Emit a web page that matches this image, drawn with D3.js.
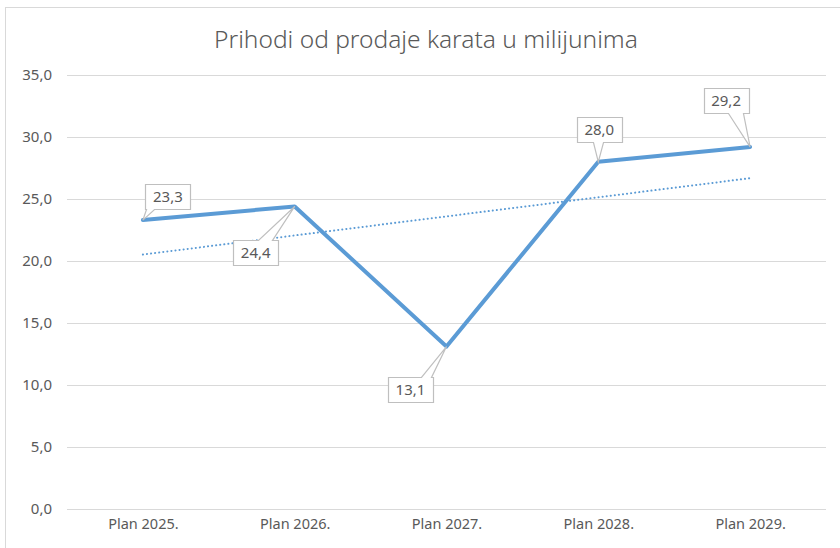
<!DOCTYPE html>
<html>
<head>
<meta charset="utf-8">
<script src="https://cdn.jsdelivr.net/npm/d3@7"></script>
<style>
  body { margin: 0; background: #fff; }
  text { font-family: "Noto Sans", "Open Sans", sans-serif; fill: #595959; }
</style>
</head>
<body>
<svg id="chart" width="840" height="548"></svg>
<script>
const categories = ['Plan 2025.', 'Plan 2026.', 'Plan 2027.', 'Plan 2028.', 'Plan 2029.'];
const revenue = [23.3, 24.4, 13.1, 28.0, 29.2];
const yTicks = [0, 5, 10, 15, 20, 25, 30, 35];
const title = 'Prihodi od prodaje karata u milijunima';

// callout placement per point: box centre offset, side the pointer leaves from, pointer base (from box left)
const callouts = [
  {dx: 25, dy: -24, side: 'bottom', b0: 1, b1: 9},
  {dx: -39, dy: 46, side: 'top', b0: 25, b1: 39},
  {dx: -36, dy: 43, side: 'top', b0: 33, b1: 43},
  {dx: 1, dy: -32, side: 'bottom', b0: 16, b1: 26},
  {dx: -24, dy: -46, side: 'bottom', b0: 24, b1: 39}
];

const width = 840;
const height = 548;
const plotLeft = 67, plotRight = 826, plotTop = 75, plotBottom = 509;

const fmt = (v) => d3.format('.1f')(v).replace('.', ',');

const svg = d3.select('#chart');

// outer chart border
svg.append('rect')
  .attr('x', 5.5).attr('y', 7.5)
  .attr('width', width).attr('height', height)
  .attr('fill', 'none')
  .attr('stroke', '#d9d9d9')

svg.append('text')
  .attr('x', 426).attr('y', 48)
  .attr('text-anchor', 'middle')
  .style('font-size', '24.5px')
  .style('font-weight', 300)
  .text(title)

const xscale = d3.scalePoint()
  .domain(categories)
  .range([plotLeft, plotRight])
  .padding(0.5)

const yscale = d3.scaleLinear()
  .domain([0, 35])
  .range([plotBottom, plotTop])

// gridlines + y labels
const leftAxis = d3.axisLeft(yscale)
  .tickValues(yTicks)
  .tickSize(-(plotRight - plotLeft))
  .tickPadding(15)
  .tickFormat(fmt)

svg.append('g')
  .attr('transform', `translate(${plotLeft}, 0)`)
  .call(leftAxis)
  .call((g) => g.select('.domain').remove())
  .call((g) => g.selectAll('line').attr('stroke', '#d9d9d9'))
  .call((g) => g.selectAll('text').attr('fill', '#595959').style('font-size', '15px').style('font-family', '"Noto Sans", sans-serif'))

const bottomAxis = d3.axisBottom(xscale).tickSize(0).tickPadding(10)

svg.append('g')
  .attr('transform', `translate(0, ${plotBottom})`)
  .call(bottomAxis)
  .call((g) => g.select('.domain').remove())
  .call((g) => g.selectAll('text').attr('fill', '#595959').style('font-size', '14.5px').style('font-family', '"Noto Sans", sans-serif'))

// linear trendline (least squares over the series)
const xs = revenue.map((d, i) => i + 1);
const mx = d3.mean(xs), my = d3.mean(revenue);
const slope = d3.sum(xs, (x, i) => (x - mx) * (revenue[i] - my)) / d3.sum(xs, (x) => (x - mx) ** 2);
const intercept = my - slope * mx;
const trend = [0, categories.length - 1].map((i) => ({cat: categories[i], v: intercept + slope * (i + 1)}));

svg.append('path')
  .datum(trend)
  .attr('fill', 'none')
  .attr('stroke', '#5b9bd5')
  .attr('stroke-width', 2)
  .attr('stroke-dasharray', '0.1 4')
  .attr('stroke-linecap', 'round')
  .attr('d', d3.line().x((d) => xscale(d.cat)).y((d) => yscale(d.v)))

const points = revenue.map((v, i) => ({cat: categories[i], v}));

svg.append('path')
  .datum(points)
  .attr('fill', 'none')
  .attr('stroke', '#5b9bd5')
  .attr('stroke-width', 4)
  .attr('stroke-linejoin', 'round')
  .attr('stroke-linecap', 'round')
  .attr('d', d3.line().x((d) => xscale(d.cat)).y((d) => yscale(d.v)))

// callout data labels
const boxW = 45, boxH = 25;
const labels = svg.append('g')
  .selectAll('g')
  .data(points)
  .enter()
  .append('g')

labels.append('path')
  .attr('fill', '#fff')
  .attr('stroke', '#bfbfbf')
  .attr('stroke-width', 1.2)
  .attr('d', (d, i) => {
    const c = callouts[i];
    const px = xscale(d.cat), py = yscale(d.v);
    const x0 = Math.round(px + c.dx - boxW / 2) + 0.5;
    const y0 = Math.round(py + c.dy - boxH / 2) + 0.5;
    const x1 = x0 + boxW, y1 = y0 + boxH;
    if (c.side === 'bottom') {
      return `M${x0},${y0}H${x1}V${y1}H${x0 + c.b1}L${px},${py}L${x0 + c.b0},${y1}H${x0}Z`;
    }
    return `M${x0},${y0}H${x0 + c.b0}L${px},${py}L${x0 + c.b1},${y0}H${x1}V${y1}H${x0}Z`;
  })

labels.append('text')
  .attr('x', (d, i) => xscale(d.cat) + callouts[i].dx)
  .attr('y', (d, i) => yscale(d.v) + callouts[i].dy + 5.5)
  .attr('text-anchor', 'middle')
  .style('font-size', '15px')
  .text((d) => fmt(d.v))
</script>
</body>
</html>
